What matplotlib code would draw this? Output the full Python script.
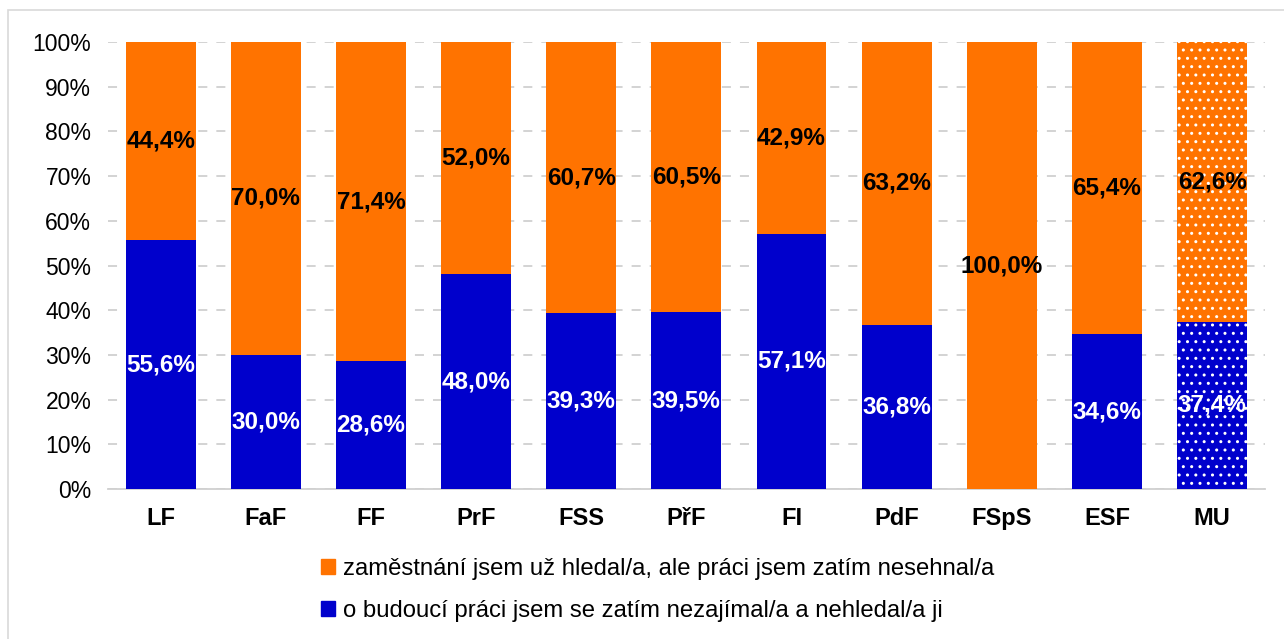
import matplotlib.pyplot as plt
from matplotlib.patches import Rectangle

plt.rcParams['font.family'] = ['Liberation Sans', 'DejaVu Sans']

faculties = ["LF", "FaF", "FF", "PrF", "FSS", "PřF", "FI", "PdF", "FSpS", "ESF", "MU"]
nezajimal = [55.6, 30.0, 28.6, 48.0, 39.3, 39.5, 57.1, 36.8, 0.0, 34.6, 37.4]
hledal = [44.4, 70.0, 71.4, 52.0, 60.7, 60.5, 42.9, 63.2, 100.0, 65.4, 62.6]
legend_labels = ["zaměstnání jsem už hledal/a, ale práci jsem zatím nesehnal/a",
                 "o budoucí práci jsem se zatím nezajímal/a a nehledal/a ji"]

blue = "#0000CC"
orange = "#FF7300"

fig = plt.figure(figsize=(12.84, 6.39), dpi=100)
ax = fig.add_axes([0.0841, 0.2347, 0.9009, 0.6996])

x = list(range(len(faculties)))
w = 0.665
b1 = ax.bar(x, nezajimal, w, color=blue, linewidth=0, zorder=3)
b2 = ax.bar(x, hledal, w, bottom=nezajimal, color=orange, linewidth=0, zorder=3)

# MU bar with white dots
for bars in (b1, b2):
    p = bars[-1]
    p.set_hatch('..')
    p.set_edgecolor('white')
    p.set_linewidth(0)

for i in x:
    if nezajimal[i] > 0:
        ax.text(i, nezajimal[i] / 2, f"{nezajimal[i]:.1f}%".replace('.', ','),
                ha='center', va='center', color='white', fontsize=17.5,
                fontweight='bold', zorder=5)
    ax.text(i, nezajimal[i] + hledal[i] / 2, f"{hledal[i]:.1f}%".replace('.', ','),
            ha='center', va='center', color='black', fontsize=17.5,
            fontweight='bold', zorder=5)

ax.set_xlim(-0.5, 10.5)
ax.set_ylim(0, 100)
ax.set_yticks(range(0, 101, 10))
ax.set_yticklabels([f"{v}%" for v in range(0, 101, 10)], fontsize=16.5)
ax.set_xticks(x)
ax.set_xticklabels(faculties, fontsize=17, fontweight='bold')
ax.tick_params(axis='x', length=0, pad=13)
ax.tick_params(axis='y', length=0, pad=12)
ax.yaxis.grid(True, color='#D0D0D0', linestyle=(0, (5, 5)), linewidth=1.3, zorder=0)
for s in ['top', 'right', 'left']:
    ax.spines[s].set_visible(False)
ax.spines['bottom'].set_color('#D0D0D0')
ax.spines['bottom'].set_linewidth(1.3)

h1 = Rectangle((0, 0), 1, 1, color=orange)
h2 = Rectangle((0, 0), 1, 1, color=blue)
fig.legend([h1, h2], legend_labels, loc='center', bbox_to_anchor=(0.512, 0.077),
           frameon=False, fontsize=17.2, handlelength=0.6, handleheight=0.6,
           handletextpad=0.3, labelspacing=0.85)

fig.patches.append(Rectangle((8 / 1284, -0.05), 1.05, 1 - 10 / 639 + 0.05,
                             transform=fig.transFigure, fill=False,
                             edgecolor='#D9D9D9', linewidth=1.2))

fig.savefig("out.png", dpi=100)
